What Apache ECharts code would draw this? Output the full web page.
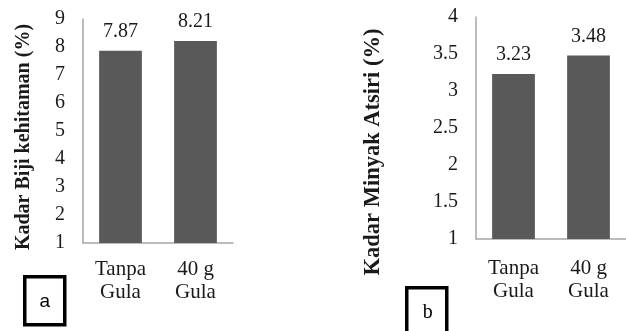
<!DOCTYPE html>
<html>
<head>
<meta charset="utf-8">
<script src="https://cdn.jsdelivr.net/npm/echarts@6/dist/echarts.min.js"></script>
<style>
  html, body { margin: 0; padding: 0; background: #fff; }
  #chart { width: 626px; height: 331px; }
</style>
</head>
<body>
<div id="chart"></div>
<script>
// Treatments shared by both panels
const categories = ['Tanpa\nGula', '40 g\nGula'];

// Panel a: blackened bean content (%)
const biji = [7.87, 8.21];
const bijiTicks = { min: 1, max: 9, interval: 1 };

// Panel b: essential oil content (%)
const atsiri = [3.23, 3.48];
const atsiriTicks = { min: 1, max: 4, interval: 0.5 };

const SERIF = '"Liberation Serif", "Times New Roman", serif';
const TEXT = '#1a1a1a';
const BAR = '#595959';
const AXIS = '#a6a6a6';

function xAxisFor(gridIndex, margin) {
  return {
    type: 'category',
    gridIndex,
    data: categories,
    axisTick: { show: false },
    axisLine: { lineStyle: { color: AXIS, width: 1.5 } },
    axisLabel: {
      fontFamily: SERIF, fontSize: 21, color: TEXT,
      lineHeight: 23, margin, interval: 0
    }
  };
}

function yAxisFor(gridIndex, ticks, name, nameGap, shift, nameSize) {
  return {
    type: 'value',
    gridIndex,
    min: ticks.min, max: ticks.max, interval: ticks.interval,
    name,
    nameLocation: 'middle',
    nameRotate: 90,
    nameGap,
    nameTextStyle: {
      fontFamily: SERIF, fontWeight: 'bold', fontSize: nameSize, color: TEXT,
      padding: [0, shift, 0, 0]
    },
    splitLine: { show: false },
    axisTick: { show: false },
    axisLine: { show: true, lineStyle: { color: AXIS, width: 1.5 } },
    axisLabel: { fontFamily: SERIF, fontSize: 20, color: TEXT, margin: 18 }
  };
}

function barSeries(axisIndex, data) {
  return {
    type: 'bar',
    xAxisIndex: axisIndex,
    yAxisIndex: axisIndex,
    data,
    barCategoryGap: '43%',
    itemStyle: { color: BAR },
    label: {
      show: true, position: 'top', distance: 9,
      fontFamily: SERIF, fontSize: 20, color: TEXT,
      formatter: p => p.value.toFixed(2)
    }
  };
}

const chart = echarts.init(document.getElementById('chart'), null, { renderer: 'canvas' });
chart.setOption({
  animation: false,
  backgroundColor: '#ffffff',
  grid: [
    { left: 83, top: 19, width: 150, height: 224 },
    { left: 476, top: 17, width: 160, height: 222 }
  ],
  xAxis: [xAxisFor(0, 15), xAxisFor(1, 18)],
  yAxis: [
    yAxisFor(0, bijiTicks, 'Kadar Biji kehitaman (%)', 49, 12, 20),
    yAxisFor(1, atsiriTicks, 'Kadar Minyak Atsiri (%)', 91, 48, 22.5)
  ],
  series: [barSeries(0, biji), barSeries(1, atsiri)],
  graphic: [
    {
      type: 'group', left: 23, top: 275,
      children: [
        { type: 'rect', shape: { x: 0, y: 0, width: 40, height: 48 },
          style: { fill: '#fff', stroke: '#000', lineWidth: 3.5 } },
        { type: 'text', x: 20, y: 25,
          style: { text: 'a', fontFamily: '"Liberation Sans", Arial, sans-serif',
                   fontSize: 19, fill: '#000', align: 'center', verticalAlign: 'middle' } }
      ]
    },
    {
      type: 'group', left: 405, top: 286,
      children: [
        { type: 'rect', shape: { x: 0, y: 0, width: 40, height: 52 },
          style: { fill: '#fff', stroke: '#000', lineWidth: 3.5 } },
        { type: 'text', x: 21, y: 25,
          style: { text: 'b', fontFamily: SERIF,
                   fontSize: 20, fill: '#000', align: 'center', verticalAlign: 'middle' } }
      ]
    }
  ]
});
</script>
</body>
</html>
